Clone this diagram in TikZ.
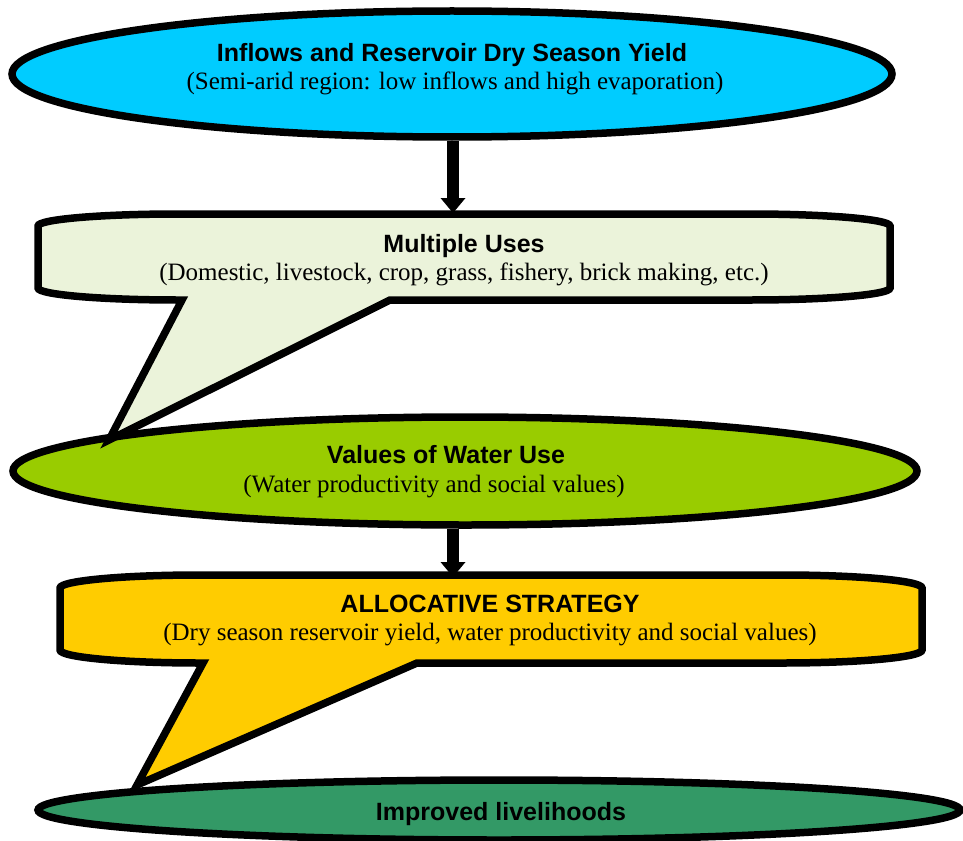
\documentclass[tikz,border=0pt]{standalone}
\usepackage{fontspec}
\setmainfont{Liberation Serif}
\setsansfont{Liberation Sans}
\usetikzlibrary{shapes.geometric,arrows.meta}
\definecolor{skyc}{HTML}{00CCFF}
\definecolor{palegreen}{HTML}{EBF3DA}
\definecolor{limec}{HTML}{99CC00}
\definecolor{goldc}{HTML}{FFCC00}
\definecolor{seagreen}{HTML}{339966}
\begin{document}
\begin{tikzpicture}[x=1pt,y=-1pt,
  shapeline/.style={draw=black, line width=7.5pt},
  oval/.style={ellipse, shapeline, inner sep=0pt},
  ttl/.style={font=\sffamily\bfseries\fontsize{25}{28}\selectfont, anchor=base, inner sep=0pt},
  sub/.style={font=\rmfamily\fontsize{25}{28}\selectfont, anchor=base, inner sep=0pt},
  bigarrow/.style={draw=black, line width=11.5pt, -{Triangle[width=25pt,length=15pt,line width=0pt]}}]
\useasboundingbox (0,0) rectangle (963,840);

% ovals
\node[oval, fill=skyc, minimum width=880pt, minimum height=126pt] (e1) at (452,74) {};
\node[oval, fill=limec, minimum width=904pt, minimum height=108pt] (e2) at (465,471) {};

% arrow 1 (under callout 1)
\coordinate (c1top) at (453,213);
\draw[bigarrow] (e1.south -| c1top) -- (c1top);

% callout 1
\draw[shapeline, fill=palegreen]
  (38,226) .. controls (38,219.4) and (100.7,214) .. (178,214)
  -- (750,214) .. controls (827.3,214) and (890,219.4) .. (890,226)
  -- (890,288) .. controls (890,294.6) and (827.3,300) .. (750,300)
  -- (390,300) -- (109,440) -- (182,300)
  -- (178,300) .. controls (100.7,300) and (38,294.6) .. (38,288) -- cycle;

% arrow 2 (under callout 2)
\coordinate (c2top) at (453,577);
\draw[bigarrow] (e2.south -| c2top) -- (c2top);

% bottom oval
\node[oval, fill=seagreen, minimum width=922pt, minimum height=60pt] (e3) at (499,810) {};

% callout 2
\draw[shapeline, fill=goldc]
  (60,588) .. controls (60,580.8) and (122.7,575) .. (200,575)
  -- (782,575) .. controls (859.3,575) and (922,580.8) .. (922,588)
  -- (922,650) .. controls (922,657.2) and (859.3,663) .. (782,663)
  -- (417,663) -- (137,785) -- (203,663)
  -- (200,663) .. controls (122.7,663) and (60,657.2) .. (60,650) -- cycle;

% texts
\node[ttl] (t1) at (452,62) {Inflows and Reservoir Dry Season Yield};
\node[sub] (s1) at (455,90) {(Semi-arid region: low inflows and high evaporation)};
\node[ttl] (t2) at (464,252) {Multiple Uses};
\node[sub] (s2) at (464,280) {(Domestic, livestock, crop, grass, fishery, brick making, etc.)};
\node[ttl] (t3) at (446,463) {Values of Water Use};
\node[sub] (s3) at (434,492) {(Water productivity and social values)};
\node[ttl] (t4) at (490,612) {ALLOCATIVE STRATEGY};
\node[sub] (s4) at (490,640) {(Dry season reservoir yield, water productivity and social values)};
\node[ttl] (t5) at (501,820) {Improved livelihoods};
\end{tikzpicture}
\end{document}
